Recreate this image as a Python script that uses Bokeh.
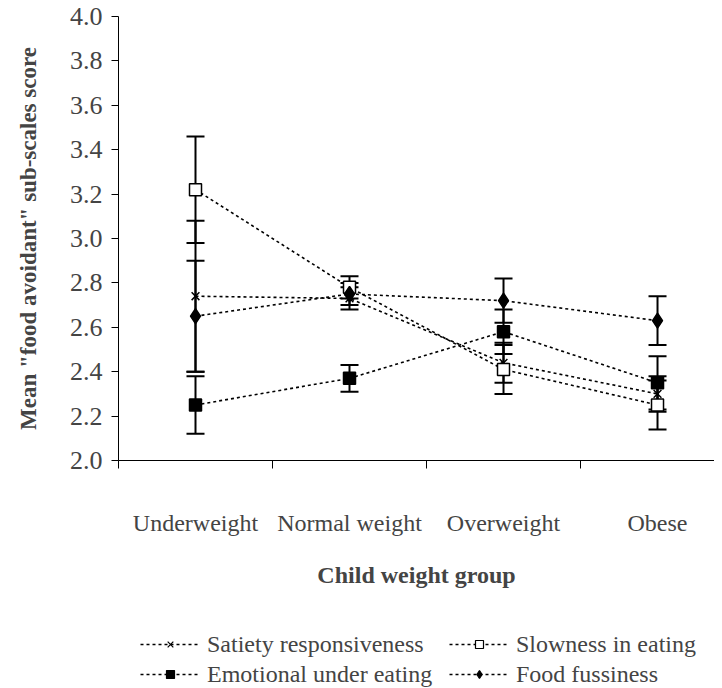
from bokeh.plotting import figure
from bokeh.layouts import column
from bokeh.models import (Range1d, FixedTicker, Whisker, TeeHead, ColumnDataSource,
                          Legend, LegendItem, PrintfTickFormatter)
from bokeh.embed import file_html
from bokeh.resources import INLINE

categories = ["Underweight", "Normal weight", "Overweight", "Obese"]
satiety = [2.74, 2.73, 2.44, 2.30]
satiety_err = [0.34, 0.05, 0.09, 0.08]
slowness = [3.22, 2.78, 2.41, 2.25]
slowness_err = [0.24, 0.05, 0.11, 0.11]
emotional = [2.25, 2.37, 2.58, 2.35]
emotional_err = [0.13, 0.06, 0.10, 0.12]
fussiness = [2.65, 2.75, 2.72, 2.63]
fussiness_err = [0.25, 0.05, 0.10, 0.11]
y_ticks = [2.0, 2.2, 2.4, 2.6, 2.8, 3.0, 3.2, 3.4, 3.6, 3.8, 4.0]

FONT = "Liberation Serif"
xs = [i + 0.5 for i in range(len(categories))]
bounds = [i for i in range(len(categories))]

p = figure(frame_width=596, frame_height=444, x_range=Range1d(0, 3.87), y_range=Range1d(2.0, 4.0),
           output_backend="svg", toolbar_location=None,
           min_border_left=118, min_border_right=0, min_border_top=16, min_border_bottom=166)
p.xgrid.visible = False
p.ygrid.visible = False
p.outline_line_color = None
p.background_fill_color = "white"
p.border_fill_color = "white"

# y axis
ya = p.yaxis[0]
ya.ticker = FixedTicker(ticks=y_ticks)
ya.formatter = PrintfTickFormatter(format="%.1f")
ya.major_tick_out = 7
ya.major_tick_in = 0
ya.minor_tick_line_color = None
ya.major_label_text_font = FONT
ya.major_label_text_font_size = "26px"
ya.major_label_standoff = 9
ya.axis_label = 'Mean "food avoidant" sub-scales score'
ya.axis_label_text_font = FONT
ya.axis_label_text_font_style = "bold"
ya.axis_label_text_font_size = "23px"
ya.axis_label_standoff = 26
ya.axis_line_color = "black"
ya.major_tick_line_color = "black"

# x axis
xa = p.xaxis[0]
xa.ticker = FixedTicker(ticks=xs, minor_ticks=bounds)
xa.major_label_overrides = {x: c for x, c in zip(xs, categories)}
xa.major_tick_line_color = None
xa.major_tick_out = 0
xa.major_tick_in = 0
xa.minor_tick_out = 8
xa.minor_tick_in = 0
xa.minor_tick_line_color = "black"
xa.major_label_text_font = FONT
xa.major_label_text_font_size = "24px"
xa.major_label_standoff = 41
xa.axis_label = "Child weight group"
xa.axis_label_text_font = FONT
xa.axis_label_text_font_style = "bold"
xa.axis_label_text_font_size = "24px"
xa.axis_label_standoff = 23
xa.axis_line_color = "black"

series = [
    ("Satiety responsiveness", satiety, satiety_err, "x", "black", 11),
    ("Slowness in eating", slowness, slowness_err, "square", "white", 12),
    ("Emotional under eating", emotional, emotional_err, "square", "black", 12),
    ("Food fussiness", fussiness, fussiness_err, "diamond", "black", 15),
]

# legend strip: a small figure whose range lies away from the data, so its
# renderers only supply the legend glyph styles
leg = figure(width=714, height=62, x_range=Range1d(0, 3.87), y_range=Range1d(100, 101),
             output_backend="svg", toolbar_location=None, min_border=0)
leg.axis.visible = False
leg.xgrid.visible = False
leg.ygrid.visible = False
leg.outline_line_color = None
leg.background_fill_color = "white"
leg.border_fill_color = "white"

items = []
for name, vals, errs, marker, fill, size in series:
    src = ColumnDataSource(dict(x=xs, y=vals,
                                upper=[v + e for v, e in zip(vals, errs)],
                                lower=[v - e for v, e in zip(vals, errs)]))
    p.line("x", "y", source=src, line_color="black", line_width=1.6, line_dash="3 3")
    w = Whisker(base="x", upper="upper", lower="lower", source=src,
                line_color="black", line_width=2, level="underlay",
                upper_head=TeeHead(size=18, line_color="black", line_width=2),
                lower_head=TeeHead(size=18, line_color="black", line_width=2))
    p.add_layout(w)
    p.scatter("x", "y", source=src, marker=marker, size=size,
              line_color="black", fill_color=fill, line_width=1.5)
    llr = leg.line("x", "y", source=src, line_color="black", line_width=1.6, line_dash="3 3")
    lsr = leg.scatter("x", "y", source=src, marker=marker, size=size,
                      line_color="black", fill_color=fill, line_width=1.2)
    items.append(LegendItem(label=name, renderers=[llr, lsr]))

legend = Legend(items=items, ncols=2, orientation="horizontal", location=(22, 0),
                label_text_font=FONT, label_text_font_size="24px",
                glyph_width=60, glyph_height=20, label_height=28, label_width=240,
                label_standoff=7, spacing=2,
                padding=0, margin=0, border_line_color=None, background_fill_alpha=0)
leg.add_layout(legend, "center")

layout = column(p, leg, spacing=0)
open("out.html", "w").write(file_html(layout, INLINE))
